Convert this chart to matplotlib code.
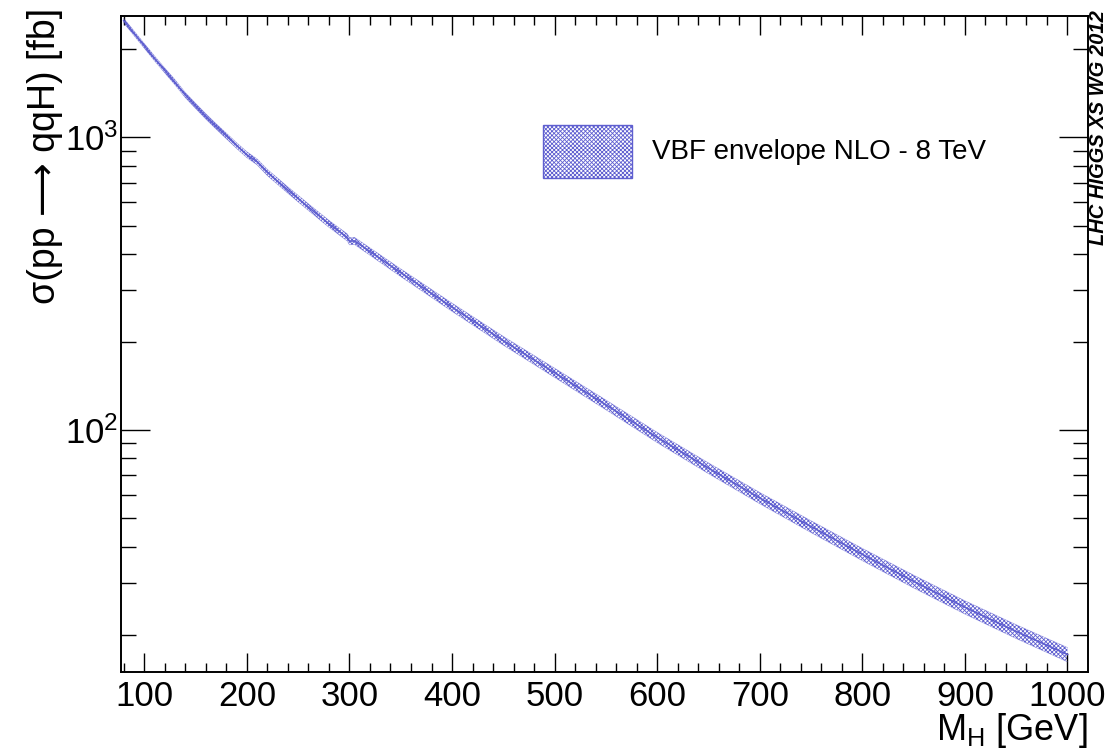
import matplotlib
matplotlib.use("Agg")
import matplotlib.pyplot as plt
from matplotlib.patches import Rectangle
from matplotlib.ticker import FixedLocator, NullFormatter, LogLocator
import numpy as np

# ---- data ----
mass = [80, 90, 100, 110, 120, 130, 140, 150, 160, 170, 180, 190, 200,
        210, 220, 240, 260, 280, 298, 300, 305, 350, 400, 450, 500, 550,
        600, 650, 700, 750, 800, 850, 900, 950, 1000]
xsec_fb = [2506, 2270, 2056, 1862, 1694, 1542, 1396, 1282, 1180, 1091, 1012, 938, 873,
           825, 759, 661, 578, 507, 455, 442, 443, 345, 263, 202, 157, 122,
           94.4, 74.1, 58.6, 46.8, 37.6, 30.4, 24.8, 20.5, 17.1]
err_pct = [1.8, 1.8, 1.8, 1.9, 1.9, 2.0, 2.0, 2.0, 2.1, 2.1, 2.2, 2.2, 2.3,
           2.3, 2.4, 2.5, 2.6, 2.7, 2.8, 2.8, 2.8, 3.0, 3.2, 3.4, 3.6, 3.8,
           4.0, 4.2, 4.4, 4.6, 4.8, 5.0, 5.2, 5.4, 5.6]
legend_label = "VBF envelope NLO - 8 TeV"
x_ticks = [100, 200, 300, 400, 500, 600, 700, 800, 900, 1000]

plt.rcParams['font.family'] = ['Liberation Sans', 'DejaVu Sans']
plt.rcParams['hatch.linewidth'] = 0.6
plt.rcParams['mathtext.fontset'] = 'custom'
plt.rcParams['mathtext.rm'] = 'Liberation Sans'
plt.rcParams['mathtext.it'] = 'Liberation Sans:italic'

blue = '#5f5fd0'

fig = plt.figure(figsize=(11.15, 7.5), dpi=100)
ax = fig.add_axes([121/1115, 1-672/750, (1088-121)/1115, (672-16)/750])

m = np.array(mass, dtype=float)
y = np.array(xsec_fb, dtype=float)
e = np.array(err_pct, dtype=float) / 100.0
lo = y * (1 - e)
hi = y * (1 + e)

ax.fill_between(m, lo, hi, facecolor='none', edgecolor=blue, hatch='xxxxxxxx', linewidth=0)
ax.plot(m, lo, color=blue, lw=0.5, alpha=0.5)
ax.plot(m, hi, color=blue, lw=0.5, alpha=0.5)
ax.plot(m, y, color=blue, lw=1.2)

ax.set_yscale('log')
ax.set_xlim(77.3, 1020)
ax.set_ylim(14.9, 2600)

ax.xaxis.set_major_locator(FixedLocator(x_ticks))
ax.xaxis.set_minor_locator(FixedLocator(np.arange(80, 1020, 20)))
ax.yaxis.set_major_locator(LogLocator(base=10, numticks=10))
ax.yaxis.set_minor_locator(LogLocator(base=10, subs=np.arange(2, 10), numticks=20))
ax.yaxis.set_minor_formatter(NullFormatter())

ax.tick_params(axis='x', which='major', direction='in', length=13.7, width=1.0,
               top=True, bottom=True, labelsize=25, pad=6)
ax.tick_params(axis='x', which='minor', direction='in', length=6.8, width=1.0,
               top=True, bottom=True)
ax.tick_params(axis='y', which='major', direction='in', length=21, width=1.0,
               left=True, right=True, labelsize=25, pad=2)
ax.tick_params(axis='y', which='minor', direction='in', length=10.8, width=1.0,
               left=True, right=True)
for s in ax.spines.values():
    s.set_linewidth(1.4)

fig.text(45/1115, 1-8/750, 'σ(pp \u27f6 qqH) [fb]', rotation=90, ha='center', va='top',
         fontsize=27)
fig.text(1088/1115, 1-711/750, r'M$_{\mathregular{H}}$ [GeV]', ha='right', va='top',
         fontsize=26)
fig.text(1099/1115, 1-10/750, 'LHC HIGGS XS WG 2012', rotation=90, ha='center', va='top',
         fontsize=14.5, fontweight='bold', fontstyle='italic')

# legend
rect = Rectangle((543/1115, 1-178/750), (632-543)/1115, (178-125)/750,
                 transform=fig.transFigure, facecolor='none', edgecolor=blue,
                 hatch='xxxxxxxx', linewidth=1.0)
fig.patches.append(rect)
fig.text(652/1115, 1-152/750, legend_label, ha='left', va='center', fontsize=20)

fig.savefig('out.png', dpi=100)
